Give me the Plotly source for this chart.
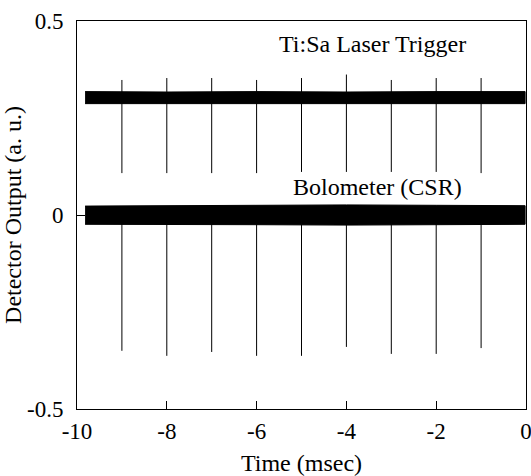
import plotly.graph_objects as go

# ---- data ----
spike_times = [-9, -8, -7, -6, -5, -4, -3, -2, -1]
trigger_spike_high = [0.348, 0.353, 0.353, 0.348, 0.353, 0.362, 0.348, 0.353, 0.353]
trigger_spike_low = [0.108, 0.108, 0.108, 0.108, 0.111, 0.111, 0.111, 0.111, 0.108]
bolo_spike_low = [-0.350, -0.363, -0.353, -0.363, -0.363, -0.340, -0.358, -0.358, -0.343]
bolo_spike_high = [0.0, 0.0, 0.0, 0.0, 0.0, 0.0, 0.0, 0.0, 0.0]

band_x = [-9.82, -8.0, -6.0, -4.0, -2.0, -0.02]
trigger_band_hi = [0.318, 0.317, 0.318, 0.317, 0.318, 0.318]
trigger_band_lo = [0.287, 0.287, 0.286, 0.287, 0.287, 0.287]
bolo_band_hi = [0.023, 0.024, 0.025, 0.026, 0.025, 0.024]
bolo_band_lo = [-0.024, -0.025, -0.025, -0.026, -0.025, -0.024]

x_ticks = [-10, -8, -6, -4, -2, 0]
x_tick_text = ["-10", "-8", "-6", "-4", "-2", "0"]
y_ticks = [-0.5, 0, 0.5]
y_tick_text = ["-0.5", "0", "0.5"]

FONT = "Liberation Serif"

fig = go.Figure()

def band(xs, hi, lo):
    return go.Scatter(
        x=list(xs) + list(xs)[::-1],
        y=list(hi) + list(lo)[::-1],
        fill="toself", fillcolor="black",
        line=dict(color="black", width=1),
        mode="lines", hoverinfo="skip", showlegend=False,
    )

fig.add_trace(band(band_x, trigger_band_hi, trigger_band_lo))
fig.add_trace(band(band_x, bolo_band_hi, bolo_band_lo))

def spikes(ts, lo, hi):
    xs, ys = [], []
    for t, a, b in zip(ts, lo, hi):
        xs += [t, t, None]
        ys += [a, b, None]
    return go.Scatter(x=xs, y=ys, mode="lines",
                      line=dict(color="black", width=1),
                      hoverinfo="skip", showlegend=False)

fig.add_trace(spikes(spike_times, trigger_spike_low, trigger_spike_high))
fig.add_trace(spikes(spike_times, bolo_spike_low, bolo_spike_high))

fig.add_annotation(x=-3.42, y=0.44, text="Ti:Sa Laser Trigger", showarrow=False,
                   font=dict(family=FONT, size=24, color="black"))
fig.add_annotation(x=-3.31, y=0.072, text="Bolometer (CSR)", showarrow=False,
                   font=dict(family=FONT, size=24, color="black"))

fig.update_layout(
    width=531, height=476,
    margin=dict(l=77, r=5, t=21, b=67, autoexpand=False),
    paper_bgcolor="white", plot_bgcolor="white",
    font=dict(family=FONT, size=23, color="black"),
    showlegend=False,
)
fig.update_xaxes(
    range=[-10, 0], tickvals=x_ticks, ticktext=x_tick_text, ticks="inside",
    ticklen=8, tickwidth=1, automargin=False, ticklabeloverflow="allow",
    tickcolor="black", showline=True, linecolor="black", linewidth=1, mirror=True,
    showgrid=False, zeroline=False, ticklabelstandoff=1,
    title=dict(text="Time (msec)", font=dict(family=FONT, size=24), standoff=14),
)
fig.update_yaxes(
    range=[-0.5, 0.5], tickvals=y_ticks, ticktext=y_tick_text, ticks="inside",
    ticklen=8, tickwidth=1, tickcolor="black", showline=True, linecolor="black",
    linewidth=1, mirror=True, showgrid=False, zeroline=False, ticklabelstandoff=8,
    automargin=False, ticklabeloverflow="allow",
    title=dict(text="Detector Output (a. u.)", font=dict(family=FONT, size=24), standoff=10),
)

fig.write_html("out.html")
